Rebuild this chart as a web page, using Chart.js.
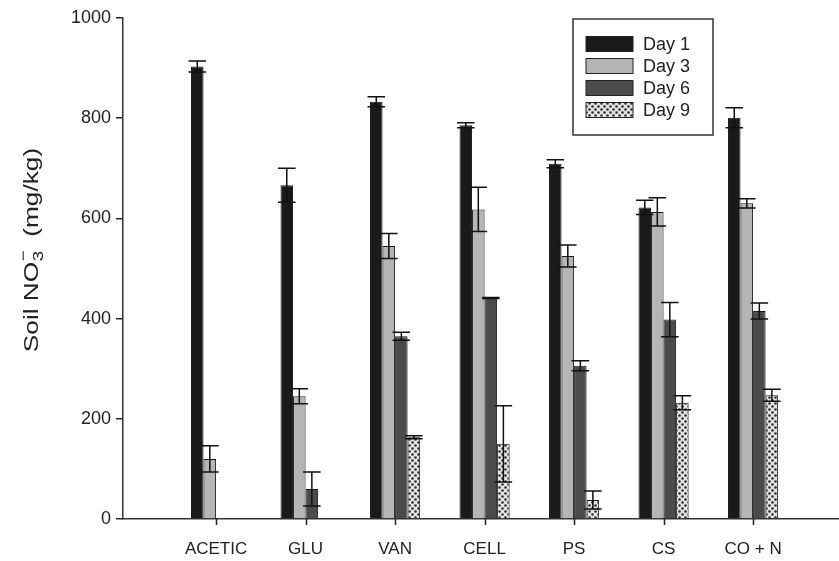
<!DOCTYPE html>
<html>
<head>
<meta charset="utf-8">
<script src="https://cdn.jsdelivr.net/npm/chart.js@4.4.1/dist/chart.umd.min.js"></script>
<style>
  html, body { margin: 0; padding: 0; background: #fff; overflow: hidden; }
  #wrap { width: 839px; height: 561px; }
</style>
</head>
<body>
<div id="wrap"><canvas id="barChart"></canvas></div>
<script>
// data (mg/kg)
var categories = ['ACETIC', 'GLU', 'VAN', 'CELL', 'PS', 'CS', 'CO + N'];
var seriesNames = ['Day 1', 'Day 3', 'Day 6', 'Day 9'];
var day1 = [903, 666, 833, 786, 709, 622, 801];
var day3 = [120, 245, 545, 618, 525, 613, 630];
var day6 = [0, 60, 365, 441, 306, 398, 415];
var day9 = [0, 0, 163, 150, 38, 232, 247];
var day1Err = [11, 34, 10, 5, 8, 14, 20];
var day3Err = [26, 15, 25, 44, 22, 28, 9];
var day6Err = [0, 34, 8, 1, 10, 34, 16];
var day9Err = [0, 0, 3, 76, 18, 14, 12];
var yTicks = [0, 200, 400, 600, 800, 1000];

var textColor = '#222';
var fontFamily = '"Liberation Sans", Arial, sans-serif';

// crosshatch fill for Day 9
function makePattern() {
  var c = document.createElement('canvas');
  c.width = 6; c.height = 6;
  var g = c.getContext('2d');
  g.fillStyle = '#e4e4e4';
  g.fillRect(0, 0, 6, 6);
  g.fillStyle = '#2e2e2e';
  g.beginPath(); g.arc(1.5, 1.5, 1.3, 0, Math.PI * 2); g.fill();
  g.beginPath(); g.arc(4.5, 4.5, 1.3, 0, Math.PI * 2); g.fill();
  return g.createPattern(c, 'repeat');
}
var dotPattern = makePattern();

var fills = ['#1a1a1a', '#b5b5b5', '#4b4b4b', dotPattern];
var values = [day1, day3, day6, day9];
var errors = [day1Err, day3Err, day6Err, day9Err];

function toPoints(arr) {
  return arr.map(function (v, i) { return { x: i + 1, y: v }; });
}

// error bars drawn with the chart's own scales
var errorBars = {
  id: 'errorBars',
  afterDatasetsDraw: function (chart) {
    var ctx = chart.ctx;
    var y = chart.scales.y;
    ctx.save();
    ctx.strokeStyle = '#111';
    ctx.lineWidth = 1.5;
    chart.data.datasets.forEach(function (ds, i) {
      var meta = chart.getDatasetMeta(i);
      meta.data.forEach(function (bar, j) {
        var v = values[i][j], e = errors[i][j];
        if (!e) return;
        var top = y.getPixelForValue(v + e);
        var bot = y.getPixelForValue(Math.max(v - e, 0));
        var half = bar.width / 2 + 2.5;
        ctx.beginPath();
        ctx.moveTo(bar.x, top); ctx.lineTo(bar.x, bot);
        ctx.moveTo(bar.x - half, top); ctx.lineTo(bar.x + half, top);
        ctx.moveTo(bar.x - half, bot); ctx.lineTo(bar.x + half, bot);
        ctx.stroke();
      });
    });
    ctx.restore();
  }
};

// category tick marks, boxed legend and the y title with sub/superscript
var extras = {
  id: 'extras',
  afterDraw: function (chart) {
    var ctx = chart.ctx;
    var xs = chart.scales.x;
    ctx.save();
    // tick marks under the x axis
    ctx.strokeStyle = '#222';
    ctx.lineWidth = 1.5;
    ctx.beginPath();
    categories.forEach(function (c, i) {
      var px = Math.round(xs.getPixelForValue(i + 1)) + 0.5;
      ctx.moveTo(px, xs.top);
      ctx.lineTo(px, xs.top + 6);
    });
    ctx.stroke();

    // legend box
    ctx.strokeStyle = '#333';
    ctx.lineWidth = 1.5;
    ctx.fillStyle = '#fff';
    ctx.fillRect(573, 19, 140, 116);
    ctx.strokeRect(573, 19, 140, 116);
    ctx.font = '18px ' + fontFamily;
    ctx.textBaseline = 'middle';
    chart.data.datasets.forEach(function (ds, i) {
      var cy = 44 + i * 22;
      ctx.fillStyle = ds.backgroundColor;
      ctx.fillRect(586, cy - 7.5, 47, 15);
      ctx.lineWidth = 1;
      ctx.strokeStyle = '#222';
      ctx.strokeRect(586, cy - 7.5, 47, 15);
      ctx.fillStyle = textColor;
      ctx.fillText(ds.label, 643, cy + 1);
    });
    ctx.restore();

    // y axis title, stretched along its length like the original
    ctx.save();
    ctx.translate(31, 250);
    ctx.rotate(-Math.PI / 2);
    ctx.scale(1.25, 1);
    var big = '21px ' + fontFamily, small = '15px ' + fontFamily;
    var parts = [
      { t: 'Soil NO', f: big },
      { t: '3', f: small },
      { t: '  (mg/kg)', f: big }
    ];
    var total = 0;
    parts.forEach(function (p) { ctx.font = p.f; p.w = ctx.measureText(p.t).width; total += p.w; });
    var x = -total / 2;
    ctx.fillStyle = textColor;
    ctx.textBaseline = 'alphabetic';
    ctx.font = big;
    ctx.fillText(parts[0].t, x, 7);
    x += parts[0].w;
    ctx.font = small;
    ctx.fillText('3', x + 0.5, 12);
    ctx.fillText('\u2212', x + 0.5, -3);
    x += parts[1].w;
    ctx.font = big;
    ctx.fillText(parts[2].t, x, 7);
    ctx.restore();
  }
};

try {
  var barCtx = document.getElementById('barChart');
  new Chart(barCtx, {
    type: 'bar',
    data: {
      datasets: seriesNames.map(function (name, i) {
        return {
          label: name,
          data: toPoints(values[i]),
          backgroundColor: fills[i],
          borderColor: '#1a1a1a',
          borderWidth: 1,
          borderSkipped: 'bottom'
        };
      })
    },
    options: {
      responsive: true,
      maintainAspectRatio: false,
      animation: false,
      layout: { padding: { top: 18, left: 0, right: 0, bottom: 0 } },
      datasets: {
        bar: { barPercentage: 1.0, categoryPercentage: 0.56 }
      },
      plugins: {
        legend: { display: false },
        tooltip: { enabled: false },
        title: { display: false }
      },
      scales: {
        x: {
          type: 'linear',
          offset: false,
          min: -0.04,
          max: 7.96,
          afterBuildTicks: function (scale) {
            scale.ticks = categories.map(function (c, i) { return { value: i + 1 }; });
          },
          afterFit: function (scale) { scale.height = 42; },
          grid: { display: false },
          border: { display: true, color: '#333', width: 1.5 },
          ticks: {
            autoSkip: false,
            maxRotation: 0,
            padding: 12,
            color: textColor,
            font: { family: fontFamily, size: 17 },
            callback: function (v) { return categories[v - 1]; }
          }
        },
        y: {
          min: 0,
          max: 1000,
          afterBuildTicks: function (scale) {
            scale.ticks = yTicks.map(function (t) { return { value: t }; });
          },
          afterFit: function (scale) { scale.width = 123; },
          grid: {
            display: true, drawOnChartArea: false, tickLength: 7,
            tickColor: '#222', tickWidth: 1.5, color: '#222', lineWidth: 1.5
          },
          border: { display: true, color: '#333', width: 1.5 },
          ticks: {
            padding: 5,
            color: textColor,
            font: { family: fontFamily, size: 18 },
            callback: function (v) { return String(v); }
          }
        }
      }
    },
    plugins: [errorBars, extras]
  });
} catch (error) {
  console.error('An error occurred while initializing the chart:', error);
}
</script>
</body>
</html>
